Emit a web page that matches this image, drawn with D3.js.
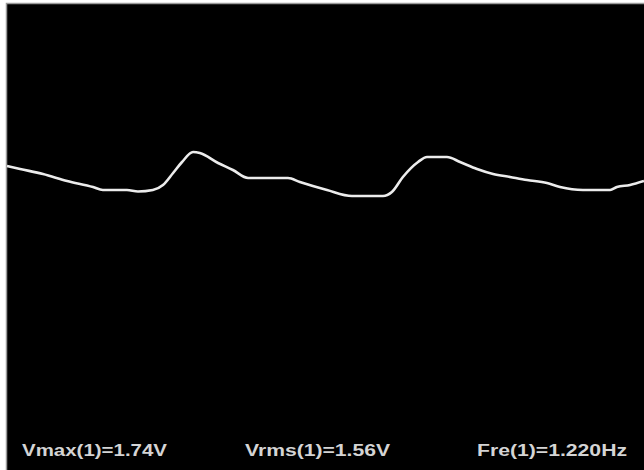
<!DOCTYPE html>
<html>
<head>
<meta charset="utf-8">
<script src="https://cdn.jsdelivr.net/npm/d3@7"></script>
<style>
  html, body { margin: 0; padding: 0; background: #fff; }
  svg { display: block; }
</style>
</head>
<body>
<div id="scope"></div>
<script>
// sample times (s) and channel 1 voltages (V)
var timeS = [0.000, 0.044, 0.121, 0.202, 0.289, 0.322, 0.403, 0.440, 0.490, 0.524,
             0.558, 0.588, 0.625, 0.648, 0.709, 0.759, 0.810, 0.944, 0.984, 1.075,
             1.159, 1.263, 1.293, 1.330, 1.381, 1.411, 1.478, 1.522, 1.579, 1.633,
             1.690, 1.747, 1.814, 1.858, 1.935, 2.026, 2.049, 2.093, 2.140];
var voltsV = [1.628, 1.604, 1.564, 1.508, 1.460, 1.436, 1.436, 1.424, 1.436, 1.476,
              1.572, 1.660, 1.740, 1.732, 1.652, 1.596, 1.532, 1.532, 1.500, 1.436,
              1.388, 1.388, 1.420, 1.540, 1.660, 1.700, 1.700, 1.660, 1.604, 1.564,
              1.540, 1.516, 1.492, 1.460, 1.436, 1.436, 1.460, 1.476, 1.508];

var measureLabels = ["Vmax(1)=1.74V", "Vrms(1)=1.56V", "Fre(1)=1.220Hz"];

var width = 644, height = 470;
var screen = { left: 6.5, top: 3.5 };

var svg = d3.select("#scope").append("svg")
    .attr("width", width)
    .attr("height", height);

// scope screen
svg.append("rect")
    .attr("x", screen.left)
    .attr("y", screen.top)
    .attr("width", width - screen.left + 2)
    .attr("height", height - screen.top + 2)
    .attr("fill", "#000")
    .attr("stroke", "#9a9a9a")
    .attr("stroke-width", 1.5);

var x = d3.scaleLinear()
    .domain([0, 2.14])
    .range([7, 644]);

// 125 px per volt
var y = d3.scaleLinear()
    .domain([0, 3])
    .range([369.5, -5.5]);

var pts = timeS.map(function(t, i) { return [t, voltsV[i]]; });

var line = d3.line()
    .x(function(d) { return x(d[0]); })
    .y(function(d) { return y(d[1]); })
    .curve(d3.curveMonotoneX);

svg.append("path")
    .datum(pts)
    .attr("d", line)
    .attr("fill", "none")
    .attr("stroke", "#ececec")
    .attr("stroke-width", 2.6)
    .attr("stroke-linejoin", "round");

// measurement readouts along the bottom
var labelX = [22, 245, 477];
var labelW = [145, 145, 150];

svg.selectAll("text.readout")
    .data(measureLabels)
    .enter().append("text")
    .attr("class", "readout")
    .attr("x", function(d, i) { return labelX[i]; })
    .attr("y", 456)
    .attr("textLength", function(d, i) { return labelW[i]; })
    .attr("lengthAdjust", "spacingAndGlyphs")
    .style("font-family", "'Liberation Sans', Arial, sans-serif")
    .style("font-weight", "bold")
    .style("font-size", "16px")
    .style("fill", "#d4d4d4")
    .text(function(d) { return d; });
</script>
</body>
</html>
